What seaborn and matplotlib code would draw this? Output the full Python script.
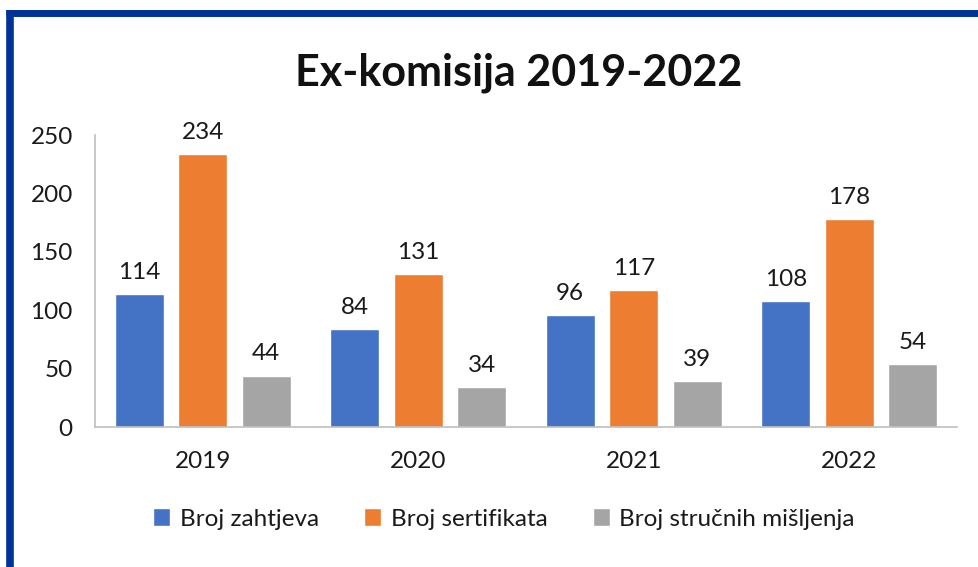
import matplotlib
matplotlib.use("Agg")
import matplotlib.pyplot as plt
from matplotlib.lines import Line2D
import seaborn as sns
import pandas as pd

years = ["2019", "2020", "2021", "2022"]
series = ["Broj zahtjeva", "Broj sertifikata", "Broj stručnih mišljenja"]
zahtjevi = [114, 84, 96, 108]
sertifikati = [234, 131, 117, 178]
misljenja = [44, 34, 39, 54]
yticks = [0, 50, 100, 150, 200, 250]
colors = ["#4472C4", "#ED7D31", "#A5A5A5"]

df = pd.DataFrame({
    "year": years * 3,
    "series": [series[0]] * 4 + [series[1]] * 4 + [series[2]] * 4,
    "value": zahtjevi + sertifikati + misljenja,
})

sns.set_theme(style="white")
plt.rcParams["font.family"] = ["Lato", "DejaVu Sans"]

W, H = 979, 567
fig = plt.figure(figsize=(W / 100, H / 100), dpi=100)
ax = fig.add_axes([95 / W, 1 - 427 / H, (957 - 95) / W, (427 - 135) / H])

sns.barplot(data=df, x="year", y="value", hue="series", order=years,
            hue_order=series, palette=colors, width=0.885, gap=0.227,
            saturation=1, ax=ax, legend=True)

for cont in ax.containers:
    ax.bar_label(cont, fmt="%d", padding=8, fontsize=17.5, color="#1a1a1a")

ax.set_ylim(0, 250)
ax.set_xlim(-0.5, 3.5)
ax.set_yticks(yticks)
ax.set_yticklabels([str(t) for t in yticks])
ax.tick_params(axis="y", labelsize=17.5, pad=16, length=0, colors="#1a1a1a")
ax.tick_params(axis="x", labelsize=17.5, pad=17, length=0, colors="#1a1a1a")
ax.set_xlabel("")
ax.set_ylabel("")
for side in ["top", "right"]:
    ax.spines[side].set_visible(False)
for side in ["left", "bottom"]:
    ax.spines[side].set_color("#BFBFBF")
    ax.spines[side].set_linewidth(1.2)

handles, labels = ax.get_legend_handles_labels()
ax.legend(handles, labels, loc="center", bbox_to_anchor=((504 - 95) / 862, 1 - (519 - 135) / 292),
          bbox_transform=ax.transAxes, ncol=3, frameon=False, fontsize=17.5,
          handlelength=0.7, handleheight=0.7, handletextpad=0.4, columnspacing=1.85,
          labelcolor="#1a1a1a")

fig.text(519 / W, 1 - 73 / H, "Ex-komisija 2019-2022", ha="center", va="center",
         fontsize=31, fontweight="bold", color="#111111")

# frame accents along top and left edges
fig.add_artist(Line2D([6 / W, 1], [1 - 13 / H, 1 - 13 / H], color="#003399",
                      linewidth=5, solid_capstyle="butt"))
fig.add_artist(Line2D([10 / W, 10 / W], [1 - 10 / H, 0], color="#003399",
                      linewidth=5.5, solid_capstyle="butt"))

fig.savefig("out.png", dpi=100)
